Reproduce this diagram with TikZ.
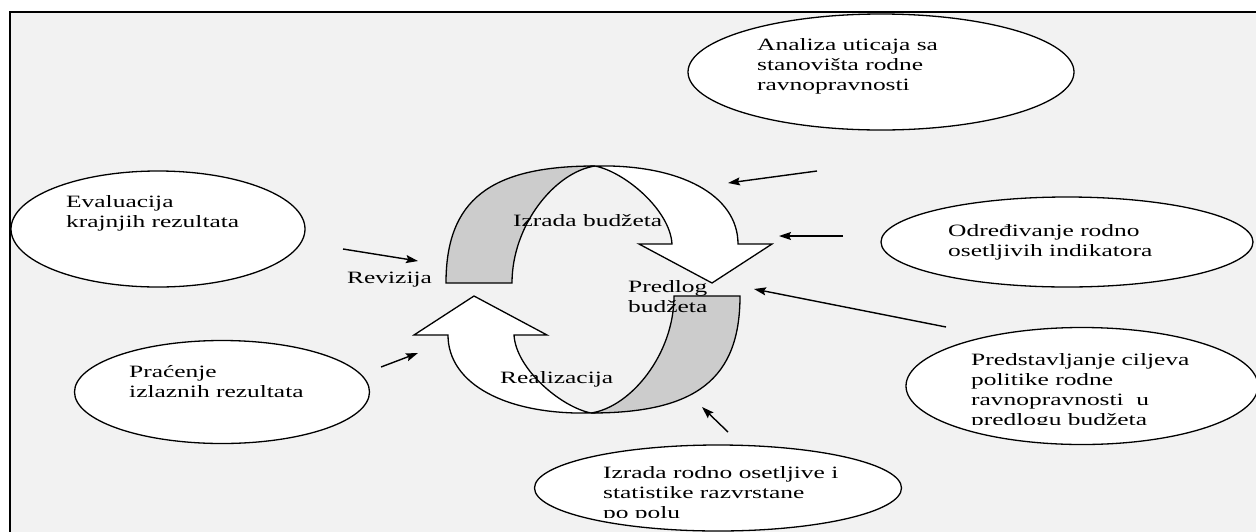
\documentclass[tikz,border=0pt]{standalone}
\usepackage{fontspec}
\setmainfont{Liberation Serif}[FakeStretch=1.47]
\usetikzlibrary{shapes.geometric,arrows.meta}
\definecolor{bggray}{HTML}{F2F2F2}
\definecolor{ribgray}{HTML}{CCCCCC}
\tikzset{
  bubble/.style={draw,ellipse,fill=white,line width=1.3pt,inner sep=0pt},
  txt/.style={anchor=base west,align=left,inner sep=0pt,font=\fontsize{17.3}{20}\selectfont},
  feed/.style={line width=1.4pt,-{Stealth[length=12pt,width=8pt,inset=2pt]}},
  ribbon/.style={draw,line width=1.3pt,line join=miter},
}
\begin{document}
\begin{tikzpicture}[x=1pt,y=-1pt]
  \useasboundingbox (0,0) rectangle (1256,531);
  \fill[bggray] (10,12) rectangle (1270,545);
  \draw[line width=2pt] (10,545) -- (10,12) -- (1270,12);

  % budget cycle
  \foreach \r in {0,180}{
    \begin{scope}[rotate around={\r:(593,289.5)}]
      \draw[ribbon,fill=ribgray] (446,283) .. controls (446,200) and (490,166) .. (595,166)
        .. controls (555,172) and (512,225) .. (512,283) -- cycle;
      \draw[ribbon,fill=white] (595,166) .. controls (680,164) and (738,195) .. (738,244)
        -- (772,244) -- (712,283) -- (639,244) -- (672,244)
        .. controls (670,210) and (625,172) .. (595,166) -- cycle;
    \end{scope}
  }
  % text nodes sit on the baseline of their last line
  \node[txt] (izb) at (513,226) {Izrada budžeta};
  \node[txt] (prb) at (628,312) {Predlog\\budžeta};
  \node[txt] (real) at (500,383) {Realizacija};
  \node[txt] (rev) at (347,283) {Revizija};

  % bubbles
  \node[bubble,minimum width=294,minimum height=116] (eval) at (158,229) {};
  \node[bubble,minimum width=295,minimum height=103] (prac) at (222,392) {};
  \node[bubble,minimum width=386,minimum height=116] (anal) at (881,72) {};
  \node[bubble,minimum width=372,minimum height=90] (odre) at (1067,242) {};
  \node[bubble,minimum width=352,minimum height=117] (pred) at (1082,386) {};
  \node[bubble,minimum width=367,minimum height=86] (izra) at (718,488) {};

  \node[txt] (evalt) at (66,227) {Evaluacija\\krajnjih rezultata};
  \node[txt] (pract) at (129,397) {Praćenje\\izlaznih rezultata};
  \node[txt] (analt) at (757,90) {Analiza uticaja sa\\stanovišta rodne\\ravnopravnosti};
  \node[txt] (odret) at (948,256) {Određivanje rodno\\osetljivih indikatora};
  \begin{scope}
    \clip (900,330) rectangle (1256,424);
    \node[txt] (predt) at (971,425) {Predstavljanje ciljeva\\politike rodne\\ravnopravnosti\ \ u\\predlogu budžeta};
  \end{scope}
  \begin{scope}
    \clip (540,450) rectangle (900,517);
    \node[txt] (izrat) at (603,518) {Izrada rodno osetljive i\\statistike razvrstane\\po polu};
  \end{scope}

  % feeding arrows
  \coordinate (a0) at (817,171); \coordinate (a1) at (728,183);
  \coordinate (b0) at (843,236); \coordinate (b1) at (779,236);
  \coordinate (c0) at (946,327); \coordinate (c1) at (754,289);
  \coordinate (d0) at (728,432); \coordinate (d1) at (702,407);
  \coordinate (e0) at (343,249); \coordinate (e1) at (418,261);
  \coordinate (f0) at (381,367); \coordinate (f1) at (418,353);
  \draw[feed] (a0) -- (a1);
  \draw[feed] (b0) -- (b1);
  \draw[feed] (c0) -- (c1);
  \draw[feed] (d0) -- (d1);
  \draw[feed] (e0) -- (e1);
  \draw[feed] (f0) -- (f1);
\end{tikzpicture}
\end{document}
